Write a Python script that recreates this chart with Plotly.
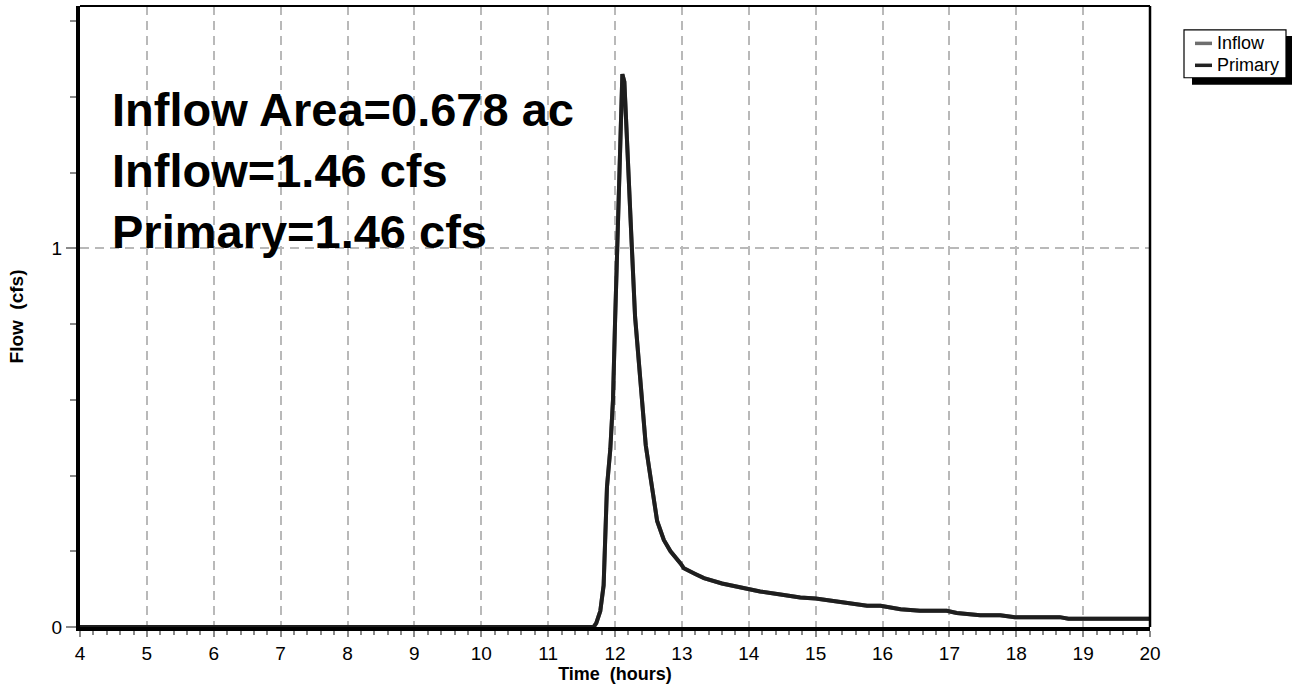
import plotly.graph_objects as go

# ---- data ----
time_hr = [4.0, 11.60, 11.68, 11.72, 11.78, 11.83, 11.86, 11.88, 11.93, 11.97, 12.00,
           12.03, 12.06, 12.09, 12.11, 12.14, 12.18, 12.25, 12.30, 12.36, 12.41, 12.46,
           12.51, 12.56, 12.63, 12.73, 12.83, 12.98, 13.03, 13.20, 13.33, 13.60, 13.97,
           14.17, 14.50, 14.77, 15.00, 15.20, 15.50, 15.77, 15.97, 16.27, 16.56, 16.96,
           17.11, 17.46, 17.76, 17.98, 18.65, 18.78, 20.0]
inflow_cfs = [0, 0, 0, 0.01, 0.042, 0.11, 0.25, 0.37, 0.47, 0.60, 0.80,
              1.00, 1.20, 1.40, 1.46, 1.44, 1.30, 1.01, 0.82, 0.70, 0.60, 0.48,
              0.42, 0.36, 0.28, 0.23, 0.20, 0.168, 0.155, 0.14, 0.129, 0.115, 0.100,
              0.094, 0.085, 0.078, 0.075, 0.070, 0.062, 0.056, 0.056, 0.047, 0.043, 0.043,
              0.037, 0.031, 0.031, 0.026, 0.026, 0.022, 0.022]
primary_cfs = list(inflow_cfs)

series_names = ["Inflow", "Primary"]
series_colors = ["#6e6e6e", "#222222"]
info_lines = ["Inflow Area=0.678 ac", "Inflow=1.46 cfs", "Primary=1.46 cfs"]
x_title = "Time  (hours)"
y_title = "Flow  (cfs)"

# ---- layout geometry (pixels) ----
W, H = 1296, 686
L, R, T, B = 80, 146, 6, 57
PW, PH = W - L - R, H - T - B


def px(xpix):
    return (xpix - L) / PW


def py(ypix):
    return (H - B - ypix) / PH


FONT = "Arial, 'Liberation Sans', Helvetica, sans-serif"

fig = go.Figure()
fig.add_trace(go.Scatter(x=time_hr, y=inflow_cfs, mode="lines", name=series_names[0],
                         line=dict(color=series_colors[0], width=4), showlegend=False))
fig.add_trace(go.Scatter(x=time_hr, y=primary_cfs, mode="lines", name=series_names[1],
                         line=dict(color="#1e1e1e", width=4), showlegend=False))

grid = dict(showgrid=True, gridcolor="#b9b9b9", gridwidth=1.5, griddash="9px,6px")

fig.update_xaxes(range=[4, 20], tickmode="linear", tick0=4, dtick=1,
                 ticks="outside", ticklen=6, tickwidth=1.5, tickcolor="#8a8a8a",
                 showline=True, linecolor="black", linewidth=4,
                 zeroline=False,
                 tickfont=dict(family=FONT, size=19, color="black"),
                 minor=dict(tickmode="linear", tick0=4, dtick=0.2, ticks="outside",
                            ticklen=4, tickwidth=1.5, tickcolor="#8a8a8a", showgrid=False),
                 title=dict(text=x_title, standoff=4,
                            font=dict(family=FONT, size=18, color="black", weight="bold")),
                 **grid)
fig.update_yaxes(range=[0, 1.64], tickmode="linear", tick0=0, dtick=1,
                 ticks="outside", ticklen=10, tickwidth=1.5, tickcolor="#8a8a8a",
                 showline=True, linecolor="black", linewidth=4,
                 zeroline=False,
                 tickfont=dict(family=FONT, size=19, color="black"),
                 minor=dict(tickmode="linear", tick0=0, dtick=0.2, ticks="outside",
                            ticklen=6, tickwidth=1.5, tickcolor="#8a8a8a", showgrid=False),
                 title=dict(text=y_title, standoff=24,
                            font=dict(family=FONT, size=19, color="black", weight="bold")),
                 **grid)

shapes = []
# top and right frame lines
shapes.append(dict(type="line", xref="paper", yref="paper", x0=0, x1=1, y0=1, y1=1,
                   line=dict(color="black", width=2)))
shapes.append(dict(type="line", xref="paper", yref="paper", x0=1, x1=1, y0=0, y1=1,
                   line=dict(color="black", width=2.5)))
# legend shadow + box
shapes.append(dict(type="rect", xref="paper", yref="paper",
                   x0=px(1192), x1=px(1292), y0=py(85), y1=py(36),
                   fillcolor="black", line=dict(width=0)))
shapes.append(dict(type="rect", xref="paper", yref="paper",
                   x0=px(1184), x1=px(1286), y0=py(78), y1=py(30),
                   fillcolor="white", line=dict(color="black", width=1.2)))
legend_rows = [43.5, 65.5]
for name, col, yy in zip(series_names, series_colors, legend_rows):
    shapes.append(dict(type="line", xref="paper", yref="paper",
                       x0=px(1195), x1=px(1212), y0=py(yy), y1=py(yy),
                       line=dict(color=col, width=3.5)))

annotations = []
for name, yy in zip(series_names, legend_rows):
    annotations.append(dict(text=name, xref="paper", yref="paper", x=px(1215), y=py(yy),
                            xanchor="left", yanchor="middle", showarrow=False,
                            font=dict(family=FONT, size=18, color="black")))

info_y = [110, 171.5, 232.5]
for txt, yy in zip(info_lines, info_y):
    annotations.append(dict(text=txt, xref="paper", yref="paper", x=px(110), y=py(yy),
                            xanchor="left", yanchor="middle", showarrow=False,
                            font=dict(family=FONT, size=47, color="black", weight="bold")))

fig.update_layout(width=W, height=H, margin=dict(l=L, r=R, t=T, b=B, pad=0),
                  paper_bgcolor="white", plot_bgcolor="white",
                  shapes=shapes, annotations=annotations, showlegend=False,
                  font=dict(family=FONT, color="black"))

fig.write_html("out.html",
               config={"displayModeBar": False},
               post_script="document.body.style.margin='0';document.body.style.overflow='hidden';")
